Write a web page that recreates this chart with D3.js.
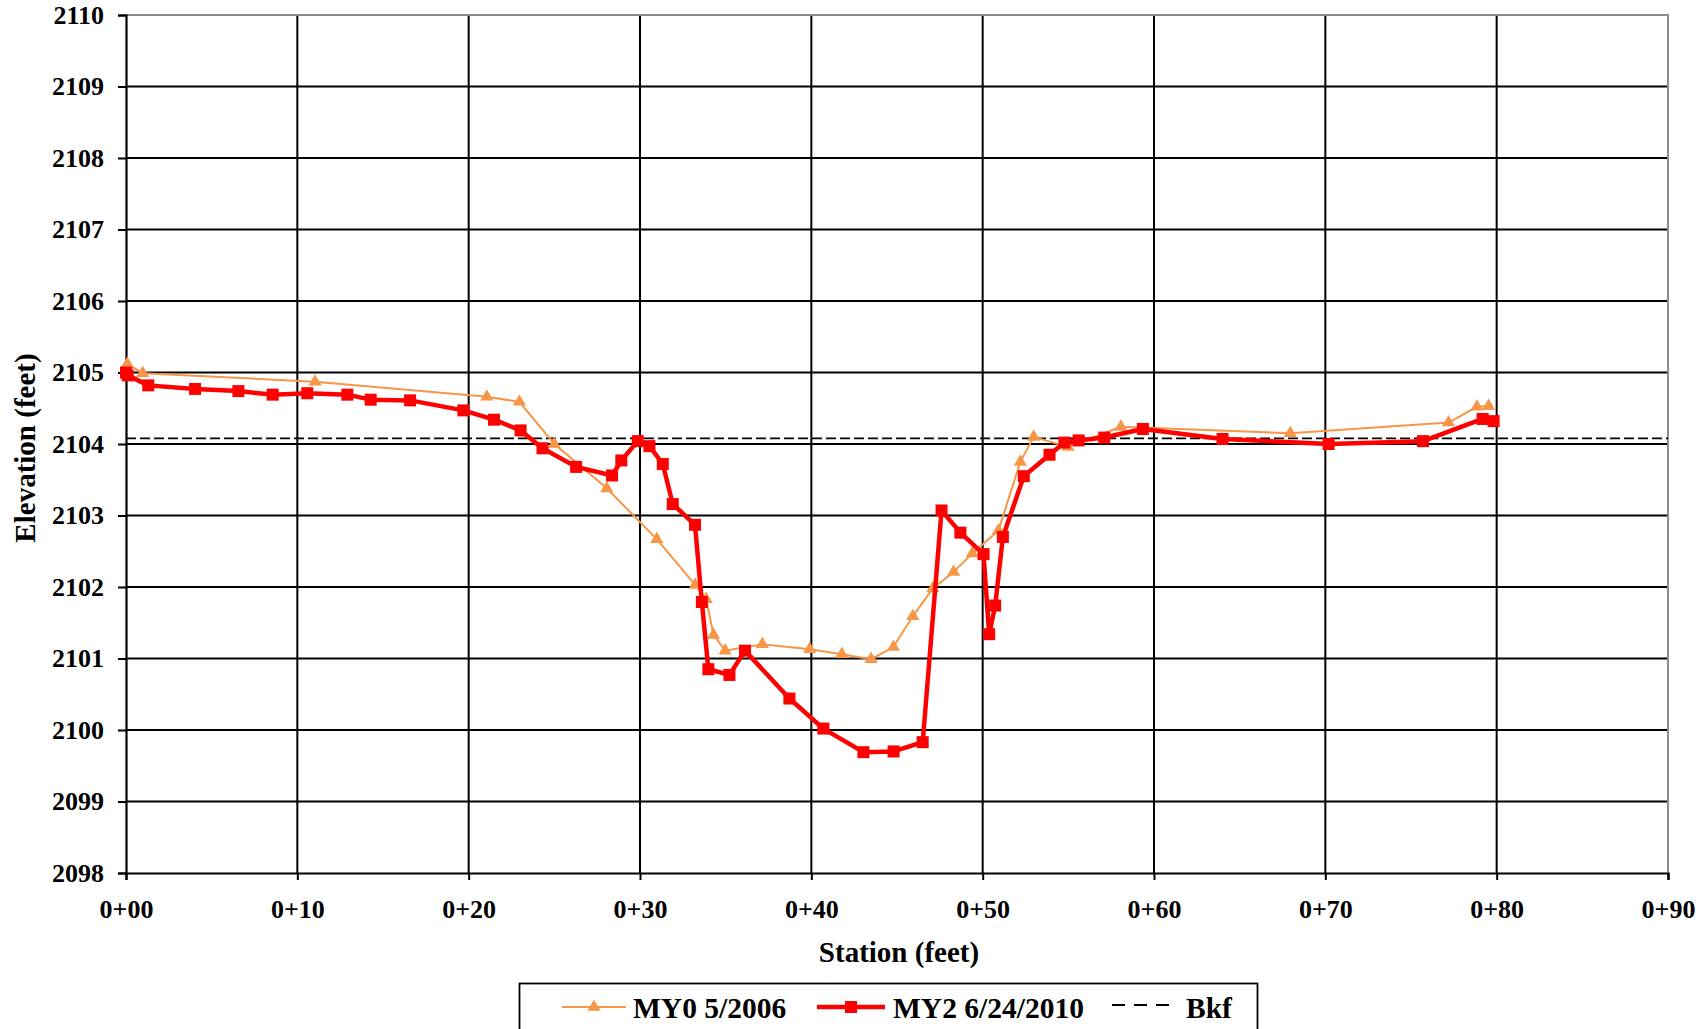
<!DOCTYPE html>
<html>
<head>
    <meta charset="utf-8">
    <script src="https://d3js.org/d3.v7.min.js"></script>
    <style>
        body { margin: 0; background: #fff; }
        text { font-family: "Liberation Serif", "Times New Roman", serif; font-weight: bold; fill: #000; }
    </style>
</head>
<body>
    <div id="chart"></div>

    <script>

        // MY0 5/2006 survey
        var stationMY0 = [0.08, 0.97, 11.03, 21.06, 22.96, 25.0, 28.06, 30.98, 33.22, 33.86, 34.29, 34.97, 37.14,
            39.9, 41.78, 43.49, 44.79, 45.92, 47.09, 48.3, 49.4, 50.92, 52.2, 52.98, 54.98, 58.07, 67.95, 77.19, 78.85, 79.53];
        var elevMY0 = [2105.12, 2104.99, 2104.87, 2104.66, 2104.59, 2104.0, 2103.38, 2102.67, 2102.03, 2101.83, 2101.33, 2101.11, 2101.2,
            2101.13, 2101.06, 2100.99, 2101.16, 2101.59, 2101.98, 2102.21, 2102.47, 2102.79, 2103.75, 2104.1, 2103.96, 2104.24, 2104.15, 2104.3, 2104.52, 2104.53];

        // MY2 6/24/2010 survey
        var stationMY2 = [0.0, 0.1, 1.3, 4.03, 6.56, 8.56, 10.58, 12.92, 14.28, 16.58, 19.69, 21.48, 23.03, 24.31, 26.27, 28.37,
            28.91, 29.87, 30.55, 31.33, 31.91, 33.21, 33.61, 33.99, 35.22, 36.13, 38.72, 40.7, 43.04, 44.8, 46.5, 47.6, 48.7,
            50.05, 50.38, 50.73, 51.18, 52.4, 53.9, 54.77, 55.6, 57.1, 59.35, 64.0, 70.19, 75.7, 79.18, 79.82];
        var elevMY2 = [2105.0, 2104.96, 2104.82, 2104.77, 2104.74, 2104.69, 2104.71, 2104.69, 2104.62, 2104.61, 2104.47, 2104.34, 2104.19, 2103.94, 2103.68, 2103.56,
            2103.77, 2104.04, 2103.97, 2103.72, 2103.16, 2102.87, 2101.79, 2100.85, 2100.77, 2101.11, 2100.44, 2100.02, 2099.69, 2099.7, 2099.83, 2103.07, 2102.76,
            2102.46, 2101.34, 2101.74, 2102.7, 2103.55, 2103.85, 2104.02, 2104.05, 2104.09, 2104.21, 2104.07, 2104.0, 2104.04, 2104.35, 2104.32];

        // bankfull elevation
        var stationBkf = [0, 90];
        var elevBkf = [2104.08, 2104.08];

        var xTicks = [0, 10, 20, 30, 40, 50, 60, 70, 80, 90];
        var yTicks = [2098, 2099, 2100, 2101, 2102, 2103, 2104, 2105, 2106, 2107, 2108, 2109, 2110];
        var seriesNames = ["MY0 5/2006", "MY2 6/24/2010", "Bkf"];

        var W = 1707, H = 1029;
        var margin = { top: 15, right: 39, bottom: 156, left: 126 },
            width = W - margin.left - margin.right,
            height = H - margin.top - margin.bottom;

        var root = d3.select("#chart")
            .append("svg")
            .attr("width", W)
            .attr("height", H);

        var svg = root.append("g")
            .attr("transform", "translate(" + margin.left + "," + margin.top + ")");

        var x = d3.scaleLinear().domain([0, 90]).range([0, width]);
        var y = d3.scaleLinear().domain([2098, 2110]).range([height, 0]);

        function fmtStation(d) { return "0+" + (d < 10 ? "0" + d : d); }

        // grid
        svg.append("g")
            .selectAll("line.hg")
            .data(yTicks.slice(1, -1))
            .enter().append("line")
            .attr("x1", 0).attr("x2", width)
            .attr("y1", function (d) { return y(d); })
            .attr("y2", function (d) { return y(d); })
            .attr("stroke", "#000").attr("stroke-width", 2);

        svg.append("g")
            .selectAll("line.vg")
            .data(xTicks.slice(1, -1))
            .enter().append("line")
            .attr("y1", 0).attr("y2", height)
            .attr("x1", function (d) { return x(d); })
            .attr("x2", function (d) { return x(d); })
            .attr("stroke", "#000").attr("stroke-width", 2);

        // plot border (top/right grey)
        svg.append("path")
            .attr("d", "M0,0H" + width + "V" + height)
            .attr("fill", "none")
            .attr("stroke", "#8c8c8c")
            .attr("stroke-width", 2);

        // axes
        var xAxis = svg.append("g")
            .attr("transform", "translate(0," + height + ")")
            .call(d3.axisBottom(x).tickValues(xTicks).tickSize(7).tickPadding(20).tickFormat(fmtStation));
        var yAxis = svg.append("g")
            .call(d3.axisLeft(y).tickValues(yTicks).tickSize(8).tickPadding(14).tickFormat(d3.format("d")));

        [xAxis, yAxis].forEach(function (a) {
            a.select(".domain").attr("stroke", "#000").attr("stroke-width", 2.2);
            a.selectAll(".tick line").attr("stroke", "#000").attr("stroke-width", 2);
            a.selectAll(".tick text")
                .style("font-family", '"Liberation Serif", serif')
                .style("font-weight", "bold")
                .style("font-size", "26px")
                .attr("fill", "#000");
        });

        // axis titles
        root.append("text")
            .attr("transform", "translate(35," + (margin.top + height / 2 + 4) + ") rotate(-90)")
            .attr("text-anchor", "middle")
            .style("font-size", "29px")
            .text("Elevation (feet)");

        root.append("text")
            .attr("x", margin.left + width / 2 + 2)
            .attr("y", 962)
            .attr("text-anchor", "middle")
            .style("font-size", "29px")
            .text("Station (feet)");

        function zip(xs, ys) {
            return xs.map(function (d, i) { return { s: d, e: ys[i] }; });
        }

        var line = d3.line()
            .x(function (d) { return x(d.s); })
            .y(function (d) { return y(d.e); });

        // Bkf
        svg.append("path")
            .datum(zip(stationBkf, elevBkf))
            .attr("fill", "none")
            .attr("stroke", "#000")
            .attr("stroke-width", 1.8)
            .attr("stroke-dasharray", "10,4")
            .attr("d", line);

        // MY0
        var orange = "#f79646";
        var dataMY0 = zip(stationMY0, elevMY0);
        svg.append("path")
            .datum(dataMY0)
            .attr("fill", "none")
            .attr("stroke", orange)
            .attr("stroke-width", 2)
            .attr("d", line);
        svg.selectAll("path.tri")
            .data(dataMY0)
            .enter().append("path")
            .attr("class", "tri")
            .attr("d", d3.symbol().type(d3.symbolTriangle).size(75))
            .attr("transform", function (d) { return "translate(" + x(d.s) + "," + y(d.e) + ")"; })
            .attr("fill", orange);

        // MY2
        var red = "#ff0000";
        var sq = 12;
        var dataMY2 = zip(stationMY2, elevMY2);
        svg.append("path")
            .datum(dataMY2)
            .attr("fill", "none")
            .attr("stroke", red)
            .attr("stroke-width", 4.5)
            .attr("stroke-linejoin", "round")
            .attr("d", line);
        svg.selectAll("rect.sq")
            .data(dataMY2)
            .enter().append("rect")
            .attr("class", "sq")
            .attr("x", function (d) { return x(d.s) - sq / 2; })
            .attr("y", function (d) { return y(d.e) - sq / 2; })
            .attr("width", sq)
            .attr("height", sq)
            .attr("fill", red);

        // legend
        var lg = root.append("g");
        lg.append("rect")
            .attr("x", 519.5).attr("y", 983.5)
            .attr("width", 738).attr("height", 60)
            .attr("fill", "#fff")
            .attr("stroke", "#000")
            .attr("stroke-width", 1.8);

        var ly = 1007;
        lg.append("line").attr("x1", 562).attr("x2", 626).attr("y1", ly).attr("y2", ly)
            .attr("stroke", orange).attr("stroke-width", 2);
        lg.append("path")
            .attr("d", d3.symbol().type(d3.symbolTriangle).size(75))
            .attr("transform", "translate(594," + ly + ")")
            .attr("fill", orange);
        lg.append("text").attr("x", 633).attr("y", 1018).style("font-size", "29.5px").text(seriesNames[0]);

        lg.append("line").attr("x1", 817).attr("x2", 885).attr("y1", ly).attr("y2", ly)
            .attr("stroke", red).attr("stroke-width", 4.5);
        lg.append("rect").attr("x", 851 - sq / 2).attr("y", ly - sq / 2).attr("width", sq).attr("height", sq).attr("fill", red);
        lg.append("text").attr("x", 893).attr("y", 1018).style("font-size", "29.5px").text(seriesNames[1]);

        lg.append("line").attr("x1", 1112).attr("x2", 1170).attr("y1", ly - 2).attr("y2", ly - 2)
            .attr("stroke", "#000").attr("stroke-width", 1.8).attr("stroke-dasharray", "13,9");
        lg.append("text").attr("x", 1186).attr("y", 1018).style("font-size", "29.5px").text(seriesNames[2]);

    </script>
</body>
</html>
